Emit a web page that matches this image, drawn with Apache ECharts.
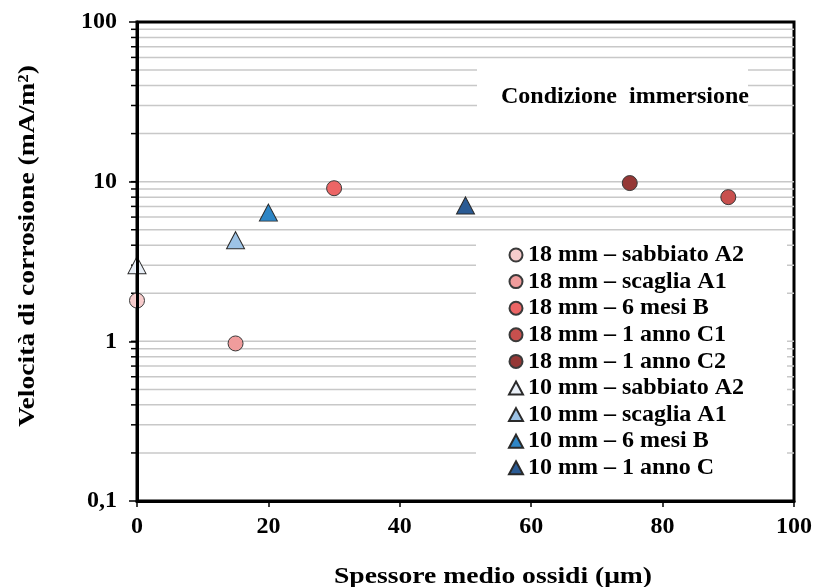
<!DOCTYPE html>
<html>
<head>
<meta charset="utf-8">
<script src="https://cdn.jsdelivr.net/npm/echarts@6/dist/echarts.min.js"></script>
<style>
  html, body { margin: 0; padding: 0; background: #fff; }
  #chart { width: 816px; height: 587px; }
</style>
</head>
<body>
<div id="chart"></div>
<script>
// dati
var circleNames = ["18 mm – sabbiato A2", "18 mm – scaglia A1", "18 mm – 6 mesi B", "18 mm – 1 anno C1", "18 mm – 1 anno C2"];
var circleX = [0, 15, 30, 90, 75];
var circleY = [1.8, 0.97, 9.1, 8.0, 9.8];

var triNames = ["10 mm – sabbiato A2", "10 mm – scaglia A1", "10 mm – 6 mesi B", "10 mm – 1 anno C"];
var triX = [0, 15, 20, 50];
var triY = [3.0, 4.3, 6.4, 7.1];

var xTicks = [0, 20, 40, 60, 80, 100];
var yTicks = [0.1, 1, 10, 100];
// righe orizzontali della griglia (scala logaritmica)
var gridValues = [0.2, 0.3, 0.4, 0.5, 0.6, 0.7, 0.8, 0.9, 1,
    2, 3, 4, 5, 6, 7, 8, 9, 10,
    20, 30, 40, 50, 60, 70, 80, 90];

var circleColors = ["#f7cccc", "#f09c9c", "#ec6565", "#c8504e", "#953735"];
var triColors = ["#e9eff7", "#9dc3e6", "#2e86c6", "#2b5b94"];

var FONT = "Liberation Serif";

var myChart = echarts.init(document.getElementById("chart"));

function renderGrid(params, api) {
    var v = api.value(1);
    var p0 = api.coord([0, v]);
    var p1 = api.coord([100, v]);
    return {
        type: "group",
        children: [
            { type: "line", shape: { x1: p0[0], y1: p0[1], x2: p1[0], y2: p1[1] },
              style: { stroke: "#c8c8c8", lineWidth: 1.5 } },
            { type: "line", shape: { x1: p0[0] - 6, y1: p0[1], x2: p0[0], y2: p0[1] },
              style: { stroke: "#000", lineWidth: 1.5 } }
        ]
    };
}

var series = [{
    type: "custom",
    name: "grid",
    renderItem: renderGrid,
    data: gridValues.map(function (v) { return [0, v]; }),
    encode: { x: 0, y: 1 },
    clip: false,
    silent: true,
    z: 1
}];

circleNames.forEach(function (name, i) {
    series.push({
        type: "scatter",
        name: name,
        symbol: "circle",
        symbolSize: 15,
        data: [[circleX[i], circleY[i]]],
        itemStyle: { color: circleColors[i], borderColor: "#3a3a3a", borderWidth: 1, opacity: 1 },
        z: 3
    });
});
triNames.forEach(function (name, i) {
    series.push({
        type: "scatter",
        name: name,
        symbol: "triangle",
        symbolSize: [18, 17],
        data: [[triX[i], triY[i]]],
        itemStyle: { color: triColors[i], borderColor: "#2a2a2a", borderWidth: 1, opacity: 1 },
        z: 3
    });
});

var option = {
    animation: false,
    backgroundColor: "#fff",
    grid: {
        left: 137, right: 22, top: 22, bottom: 86,
        show: true,
        borderColor: "#000",
        borderWidth: 3,
        backgroundColor: "transparent"
    },
    xAxis: {
        type: "value",
        min: xTicks[0],
        max: xTicks[xTicks.length - 1],
        interval: 20,
        z: 10,
        axisLine: { show: true, lineStyle: { color: "#000", width: 3 } },
        axisTick: { show: true, inside: false, length: 6, lineStyle: { color: "#000", width: 1.5 } },
        axisLabel: {
            margin: 14,
            color: "#000",
            fontFamily: FONT,
            fontWeight: "bold",
            fontSize: 24
        },
        splitLine: { show: false }
    },
    yAxis: {
        type: "log",
        logBase: 10,
        min: yTicks[0],
        max: yTicks[yTicks.length - 1],
        z: 10,
        axisLine: { show: true, lineStyle: { color: "#000", width: 3 } },
        axisTick: { show: true, inside: false, length: 8, lineStyle: { color: "#000", width: 1.5 } },
        axisLabel: {
            margin: 20,
            color: "#000",
            fontFamily: FONT,
            fontWeight: "bold",
            fontSize: 24,
            formatter: function (v) { return String(v).replace(".", ","); }
        },
        splitLine: { show: false }
    },
    legend: {
        data: circleNames.concat(triNames),
        orient: "vertical",
        left: 476,
        top: 235,
        padding: [8, 43, 8, 32],
        backgroundColor: "#fff",
        itemWidth: 14,
        itemHeight: 13,
        itemGap: 2.6,
        textStyle: {
            color: "#000",
            fontFamily: FONT,
            fontWeight: "bold",
            fontSize: 24,
            lineHeight: 24
        },
        z: 6
    },
    graphic: [
        {
            type: "rect",
            shape: { x: 477, y: 63, width: 271, height: 65 },
            style: { fill: "#fff" },
            z: 6
        },
        {
            type: "text",
            x: 625, y: 97,
            style: {
                text: "Condizione  immersione",
                fill: "#000",
                font: "bold 24px " + FONT,
                align: "center",
                verticalAlign: "middle"
            },
            z: 7
        },
        {
            type: "text",
            x: 28, y: 246,
            rotation: Math.PI / 2,
            scaleX: 1.2,
            style: {
                text: "Velocità di corrosione (mA/m²)",
                fill: "#000",
                font: "bold 23px " + FONT,
                align: "center",
                verticalAlign: "middle"
            },
            z: 7
        },
        {
            type: "text",
            x: 493, y: 577,
            scaleX: 1.2,
            style: {
                text: "Spessore medio ossidi (μm)",
                fill: "#000",
                font: "bold 23px " + FONT,
                align: "center",
                verticalAlign: "middle"
            },
            z: 7
        }
    ],
    series: series
};

myChart.setOption(option);
</script>
</body>
</html>
